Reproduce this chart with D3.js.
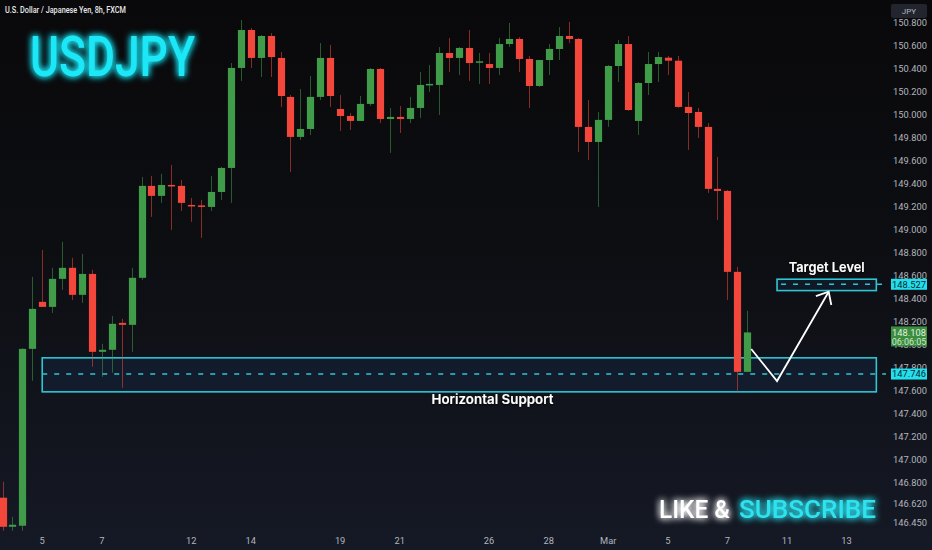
<!DOCTYPE html>
<html><head><meta charset="utf-8">
<script src="https://cdn.jsdelivr.net/npm/d3@7"></script>
<style>html,body{margin:0;padding:0;background:#0b0b0d;overflow:hidden}svg{display:block}</style>
</head><body>
<svg id="c" width="932" height="550"></svg>
<script>
// ---- data ----
const candleOpen  = [146.670,146.417,146.426,147.965,148.374,148.330,148.574,148.670,148.435,148.617,147.939,147.957,148.191,148.174,148.583,149.383,149.296,149.391,149.383,149.217,149.213,149.200,149.330,149.539,150.409,150.739,150.496,150.687,150.496,150.157,149.809,149.878,150.157,150.496,150.052,149.991,149.948,150.096,150.400,149.965,149.983,149.965,150.061,150.257,150.261,150.539,150.496,150.583,150.455,150.443,150.409,150.617,150.661,150.487,150.252,150.478,150.574,150.687,150.661,149.896,149.765,149.957,150.426,150.617,149.948,150.278,150.443,150.498,150.472,150.070,150.026,149.896,149.357,149.339,148.635,147.765];
const candleHigh  = [146.809,146.504,147.970,148.591,148.826,148.670,148.896,148.757,148.791,148.652,148.009,148.252,148.226,148.670,149.461,149.470,149.487,149.565,149.435,149.278,149.261,149.470,149.548,150.452,150.826,150.757,150.696,150.713,150.548,150.174,150.226,150.339,150.626,150.609,150.174,150.017,150.165,150.409,150.409,150.061,150.078,150.157,150.374,150.435,150.591,150.670,150.591,150.739,150.539,150.539,150.670,150.800,150.678,150.513,150.478,150.617,150.765,150.809,150.670,150.130,150.026,150.435,150.652,150.687,150.287,150.548,150.548,150.513,150.513,150.200,150.061,149.930,149.635,149.348,148.678,148.296];
const candleLow   = [146.383,146.383,146.383,147.687,148.330,148.278,148.478,148.391,148.365,147.809,147.722,147.757,147.626,147.939,148.565,149.113,149.235,149.000,149.165,149.070,148.930,149.165,149.261,149.235,150.296,150.409,150.330,150.330,150.070,149.504,149.783,149.826,150.130,150.070,149.861,149.870,149.948,150.078,149.930,149.670,149.843,149.930,149.974,150.200,150.000,150.374,150.348,150.296,150.270,150.270,150.348,150.591,150.374,150.061,150.243,150.348,150.478,150.626,149.678,149.609,149.200,149.896,150.287,150.035,149.826,150.174,150.287,150.348,150.061,149.696,149.800,149.322,149.087,148.391,147.591,147.765];
const candleClose = [146.417,146.435,147.965,148.313,148.330,148.574,148.670,148.435,148.617,147.939,147.957,148.183,148.174,148.583,149.383,149.296,149.391,149.378,149.235,149.204,149.200,149.330,149.539,150.409,150.739,150.496,150.687,150.504,150.165,149.809,149.878,150.157,150.496,150.165,149.991,149.948,150.096,150.400,149.965,149.983,149.965,150.061,150.261,150.270,150.539,150.496,150.583,150.452,150.467,150.409,150.617,150.661,150.487,150.252,150.478,150.574,150.687,150.661,149.896,149.765,149.957,150.426,150.617,150.043,150.278,150.443,150.504,150.472,150.070,150.017,149.896,149.357,149.339,148.635,147.765,148.108];

const timeLabels  = ["5","7","12","14","19","21","26","28","Mar","5","7","11","13"];
const timeIndex   = [4,10,19,25,34,40,49,55,61,67,73,79,85];
const priceTicks  = ["150.800","150.600","150.400","150.200","150.000","149.800","149.600","149.400","149.200","149.000","148.800","148.600","148.400","148.200","148.000","147.800","147.600","147.400","147.200","147.000","146.800","146.620","146.450"];

const supportZone = [147.591, 147.887];
const supportLevel = 147.746;
const targetZone = [148.472, 148.571];
const targetLevel = 148.527;
const zoneStart = [4, 78];   // candle index where support / target boxes start
const zoneEnd = 88;
const arrowIdx = [75.4, 78, 83.2];
const arrowVal = [147.964, 147.685, 148.462];
const lastPrice = "148.108", countdown = "06:06:05";

// ---- drawing ----
const W = 932, H = 550, plotRight = 886;
const svg = d3.select("#c");
const defs = svg.append("defs");
const bg = defs.append("linearGradient").attr("id","bg").attr("x1",0).attr("y1",0).attr("x2",0).attr("y2",1);
bg.append("stop").attr("offset","0%").attr("stop-color","#09090b");
bg.append("stop").attr("offset","45%").attr("stop-color","#0d0e12");
bg.append("stop").attr("offset","100%").attr("stop-color","#151925");
const glow = defs.append("filter").attr("id","glow").attr("x","-20%").attr("y","-60%").attr("width","140%").attr("height","220%");
glow.append("feGaussianBlur").attr("in","SourceGraphic").attr("stdDeviation",3.5).attr("result","b");
const gm = glow.append("feMerge");
gm.append("feMergeNode").attr("in","b");
gm.append("feMergeNode").attr("in","b");
gm.append("feMergeNode").attr("in","SourceGraphic");
const shadow = defs.append("filter").attr("id","sh").attr("x","-10%").attr("y","-50%").attr("width","120%").attr("height","200%");
shadow.append("feDropShadow").attr("dx",0).attr("dy",1).attr("stdDeviation",1.2).attr("flood-color","#000").attr("flood-opacity",0.9);

svg.append("rect").attr("width",W).attr("height",H).attr("fill","url(#bg)");

const x = d3.scaleLinear().domain([0, 75]).range([2.5, 747.25]);
const y = d3.scaleLinear().domain([146.45, 150.8]).range([523, 23]);

const UP = "#409c49", DOWN = "#f3473b";
const candles = candleOpen.map((o,i)=>({i, o, h:candleHigh[i], l:candleLow[i], c:candleClose[i]}));

const plot = svg.append("g");
// zones (behind candles)
const sup = plot.append("rect")
  .attr("x", x(zoneStart[0])).attr("width", x(zoneEnd)-x(zoneStart[0]))
  .attr("y", y(supportZone[1])).attr("height", y(supportZone[0])-y(supportZone[1]))
  .attr("fill","rgba(40,90,170,0.13)").attr("stroke","#2ec6d3").attr("stroke-width",1.6);
plot.append("rect")
  .attr("x", x(zoneStart[1])).attr("width", x(zoneEnd)-x(zoneStart[1]))
  .attr("y", y(targetZone[1])).attr("height", y(targetZone[0])-y(targetZone[1]))
  .attr("fill","rgba(40,90,170,0.13)").attr("stroke","#2ec6d3").attr("stroke-width",1.6);
plot.append("line").attr("x1",x(zoneStart[0])).attr("x2",plotRight)
  .attr("y1",y(supportLevel)).attr("y2",y(supportLevel))
  .attr("stroke","#2ec6d3").attr("stroke-width",1.5).attr("stroke-dasharray","5,7");
plot.append("line").attr("x1",x(zoneStart[1])+4).attr("x2",plotRight)
  .attr("y1",y(targetLevel)).attr("y2",y(targetLevel))
  .attr("stroke","#2ec6d3").attr("stroke-width",1.5).attr("stroke-dasharray","5,7");

// candles
const cg = plot.append("g");
cg.selectAll("line.w").data(candles).join("line").attr("class","w")
  .attr("x1",d=>Math.round(x(d.i))+0.5).attr("x2",d=>Math.round(x(d.i))+0.5)
  .attr("y1",d=>y(d.h)).attr("y2",d=>y(d.l))
  .attr("stroke",d=>d.c>=d.o?UP:DOWN).attr("stroke-opacity",0.55).attr("stroke-width",1);
cg.selectAll("rect.b").data(candles).join("rect").attr("class","b")
  .attr("x",d=>Math.round(x(d.i))+0.5-3.6).attr("width",7.2)
  .attr("y",d=>y(Math.max(d.o,d.c)))
  .attr("height",d=>Math.max(1.5, Math.abs(y(d.o)-y(d.c))))
  .attr("fill",d=>d.c>=d.o?UP:DOWN);

// arrow
const ap = arrowIdx.map((v,k)=>[x(v), y(arrowVal[k])]);
plot.append("path").attr("d", d3.line()(ap)).attr("fill","none")
  .attr("stroke","#ffffff").attr("stroke-width",1.8).attr("stroke-linejoin","miter");
{
  const [x1,y1] = ap[1], [x2,y2] = ap[2];
  const ang = Math.atan2(y1-y2, x1-x2), L = 13.5, spread = 0.72;
  const a1 = [x2+L*Math.cos(ang+spread), y2+L*Math.sin(ang+spread)];
  const a2 = [x2+L*Math.cos(ang-spread), y2+L*Math.sin(ang-spread)];
  plot.append("path").attr("d", d3.line()([a1,[x2,y2],a2])).attr("fill","none")
    .attr("stroke","#ffffff").attr("stroke-width",1.8);
}

// annotation texts
plot.append("text").attr("x",(x(zoneStart[1])+x(zoneEnd))/2).attr("y",y(targetZone[1])-7)
  .attr("text-anchor","middle").attr("fill","#ffffff").attr("font-family","Inter, Roboto, sans-serif")
  .attr("font-weight",600).attr("font-size",13.5).attr("textLength",76).attr("lengthAdjust","spacingAndGlyphs")
  .attr("filter","url(#sh)").text("Target Level");
plot.append("text").attr("x",492.5).attr("y",y(supportZone[0])+12)
  .attr("text-anchor","middle").attr("fill","#ffffff").attr("font-family","Inter, Roboto, sans-serif")
  .attr("font-weight",600).attr("font-size",13.5).attr("textLength",122).attr("lengthAdjust","spacingAndGlyphs")
  .attr("filter","url(#sh)").text("Horizontal Support");

// header
svg.append("text").attr("x",5).attr("y",13).attr("fill","#e8e8ea").attr("font-family","Roboto, sans-serif")
  .attr("font-size",9).attr("font-weight",500).attr("textLength",121).attr("lengthAdjust","spacingAndGlyphs")
  .text("U.S. Dollar / Japanese Yen, 8h, FXCM");

// title
svg.append("text").attr("x",30).attr("y",76).attr("fill","#1fe7f6").attr("font-family","Roboto, sans-serif")
  .attr("font-weight",500).attr("font-size",56).attr("textLength",165).attr("lengthAdjust","spacingAndGlyphs")
  .attr("filter","url(#glow)").text("USDJPY");

// like & subscribe
svg.append("text").attr("x",659).attr("y",518).attr("fill","#ffffff").attr("font-family","Roboto, sans-serif")
  .attr("font-weight",500).attr("font-size",26.5).attr("textLength",71).attr("lengthAdjust","spacingAndGlyphs")
  .attr("filter","url(#glow)").text("LIKE &");
svg.append("text").attr("x",739).attr("y",518).attr("fill","#2fe3f0").attr("font-family","Roboto, sans-serif")
  .attr("font-weight",500).attr("font-size",26.5).attr("textLength",137).attr("lengthAdjust","spacingAndGlyphs")
  .attr("filter","url(#glow)").text("SUBSCRIBE");

// price axis
const axisG = svg.append("g").attr("font-family","Roboto, sans-serif").attr("font-size",9.3).attr("fill","#b2b5be");
axisG.selectAll("text.p").data(priceTicks).join("text").attr("class","p")
  .attr("x",910).attr("y",d=>y(+d)).attr("dy","0.35em").attr("text-anchor","middle").text(d=>d);

// time axis
axisG.selectAll("text.t").data(timeLabels).join("text").attr("class","t")
  .attr("x",(d,k)=>x(timeIndex[k])).attr("y",541).attr("dy","0.35em").attr("text-anchor","middle").text(d=>d);

// JPY tag
svg.append("rect").attr("x",891).attr("y",4).attr("width",36).attr("height",14).attr("rx",2).attr("fill","#22252e");
svg.append("text").attr("x",909).attr("y",11).attr("dy","0.35em").attr("text-anchor","middle")
  .attr("fill","#b2b5be").attr("font-family","Roboto, sans-serif").attr("font-size",8).text("JPY");

// price labels
function priceTag(v, label, fill, color){
  const g = svg.append("g");
  g.append("rect").attr("x",891).attr("y",y(v)-5.5).attr("width",36).attr("height",11).attr("fill",fill);
  g.append("text").attr("x",909).attr("y",y(v)).attr("dy","0.35em").attr("text-anchor","middle")
    .attr("fill",color).attr("font-family","Roboto, sans-serif").attr("font-size",9.3).text(label);
}
priceTag(targetLevel, targetLevel.toFixed(3), "#22dfee", "#0f1e2a");
priceTag(supportLevel, supportLevel.toFixed(3), "#22dfee", "#0f1e2a");
{
  const v = +lastPrice;
  const g = svg.append("g");
  g.append("rect").attr("x",891).attr("y",y(v)-6).attr("width",36).attr("height",20).attr("fill","#3c8d3f");
  g.append("text").attr("x",909).attr("y",y(v)).attr("dy","0.35em").attr("text-anchor","middle")
    .attr("fill","#dff3df").attr("font-family","Roboto, sans-serif").attr("font-size",9.3).text(lastPrice);
  g.append("text").attr("x",909).attr("y",y(v)+9.5).attr("dy","0.35em").attr("text-anchor","middle")
    .attr("fill","#cfe8cf").attr("font-family","Roboto, sans-serif").attr("font-size",9).text(countdown);
}
</script>
</body></html>
